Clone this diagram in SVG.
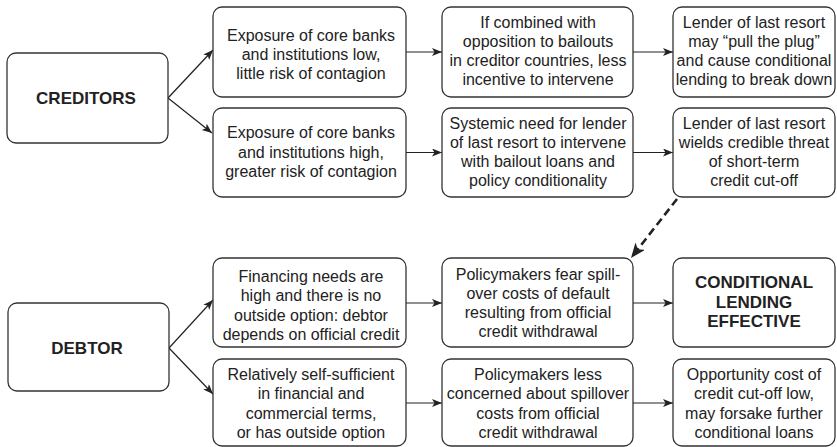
<svg xmlns="http://www.w3.org/2000/svg" width="837" height="447" viewBox="0 0 837 447">
<style>
.box{fill:#fff;stroke:#333;stroke-width:1.3}
.t{font-family:"Liberation Sans",Arial,sans-serif;font-size:16px;fill:#222;text-anchor:middle}
.b{font-family:"Liberation Sans",Arial,sans-serif;font-size:17px;font-weight:bold;fill:#222;text-anchor:middle}
.c{fill:none;stroke:#222;stroke-width:1.2}
.d{fill:none;stroke:#222;stroke-width:2.6;stroke-dasharray:8 4.5}
</style>
<defs>
<marker id="ah" markerUnits="userSpaceOnUse" markerWidth="12" markerHeight="10" refX="10" refY="4" orient="auto">
<path d="M0,0 L10,4 L0,8 L2.5,4 Z" fill="#222"/>
</marker>
<marker id="ahd" markerUnits="userSpaceOnUse" markerWidth="18" markerHeight="14" refX="15" refY="6" orient="auto">
<path d="M0,0 L15,6 L0,12 L4,6 Z" fill="#222"/>
</marker>
</defs>
<rect width="837" height="447" fill="#fff"/>

<g id="connectors">
<line class="c" x1="168" y1="98" x2="213" y2="50" marker-end="url(#ah)"/>
<line class="c" x1="168" y1="98" x2="212" y2="133" marker-end="url(#ah)"/>
<line class="c" x1="169" y1="348" x2="213" y2="300" marker-end="url(#ah)"/>
<line class="c" x1="169" y1="348" x2="213" y2="394" marker-end="url(#ah)"/>
<line class="c" x1="406" y1="52" x2="442" y2="52" marker-end="url(#ah)"/>
<line class="c" x1="633" y1="52" x2="673" y2="52" marker-end="url(#ah)"/>
<line class="c" x1="406" y1="152.5" x2="442" y2="152.5" marker-end="url(#ah)"/>
<line class="c" x1="633" y1="152.5" x2="673" y2="152.5" marker-end="url(#ah)"/>
<line class="c" x1="406" y1="303" x2="442" y2="303" marker-end="url(#ah)"/>
<line class="c" x1="633" y1="303" x2="673" y2="303" marker-end="url(#ah)"/>
<line class="c" x1="406" y1="403" x2="442" y2="403" marker-end="url(#ah)"/>
<line class="c" x1="633" y1="403" x2="673" y2="403" marker-end="url(#ah)"/>
<line class="d" x1="677" y1="199" x2="631" y2="258" marker-end="url(#ahd)"/>
</g>

<g id="creditors">
<rect class="box" x="7" y="53" width="161" height="90" rx="9"/>
<text class="b" x="86" y="104">CREDITORS</text>
</g>
<g id="debtor">
<rect class="box" x="8" y="303" width="161" height="88" rx="9"/>
<text class="b" x="87" y="354">DEBTOR</text>
</g>

<g id="c-low">
<rect class="box" x="213" y="7" width="193" height="90" rx="9"/>
<text class="t" x="311" y="40.5">Exposure of core banks</text>
<text class="t" x="311" y="59.5">and institutions low,</text>
<text class="t" x="311" y="78.5">little risk of contagion</text>
</g>
<g id="c-high">
<rect class="box" x="213" y="108" width="193" height="89" rx="9"/>
<text class="t" x="311" y="138">Exposure of core banks</text>
<text class="t" x="311" y="157.5">and institutions high,</text>
<text class="t" x="311" y="176.5">greater risk of contagion</text>
</g>
<g id="c-oppose">
<rect class="box" x="442" y="7" width="191" height="90" rx="9"/>
<text class="t" x="538" y="28">If combined with</text>
<text class="t" x="538" y="47">opposition to bailouts</text>
<text class="t" x="538" y="66">in creditor countries, less</text>
<text class="t" x="538" y="85">incentive to intervene</text>
</g>
<g id="c-need">
<rect class="box" x="442" y="108" width="191" height="89" rx="9"/>
<text class="t" x="538" y="128.5">Systemic need for lender</text>
<text class="t" x="538" y="147.5">of last resort to intervene</text>
<text class="t" x="538" y="166.5">with bailout loans and</text>
<text class="t" x="538" y="185.5">policy conditionality</text>
</g>
<g id="c-plug">
<rect class="box" x="673" y="7" width="162" height="90" rx="9"/>
<text class="t" x="754" y="28">Lender of last resort</text>
<text class="t" x="754" y="47">may “pull the plug”</text>
<text class="t" x="754" y="66">and cause conditional</text>
<text class="t" x="754" y="85">lending to break down</text>
</g>
<g id="c-threat">
<rect class="box" x="673" y="108" width="162" height="89" rx="9"/>
<text class="t" x="754" y="128.5">Lender of last resort</text>
<text class="t" x="754" y="147.5">wields credible threat</text>
<text class="t" x="754" y="166.5">of short-term</text>
<text class="t" x="754" y="185.5">credit cut-off</text>
</g>

<g id="d-high">
<rect class="box" x="213" y="258" width="193" height="89" rx="9"/>
<text class="t" x="311" y="281.5">Financing needs are</text>
<text class="t" x="311" y="301">high and there is no</text>
<text class="t" x="311" y="320.5">outside option: debtor</text>
<text class="t" x="311" y="340">depends on official credit</text>
</g>
<g id="d-self">
<rect class="box" x="213" y="359" width="193" height="87" rx="9"/>
<text class="t" x="311" y="379.5">Relatively self-sufficient</text>
<text class="t" x="311" y="399">in financial and</text>
<text class="t" x="311" y="418.5">commercial terms,</text>
<text class="t" x="311" y="438">or has outside option</text>
</g>
<g id="d-fear">
<rect class="box" x="442" y="258" width="191" height="89" rx="9"/>
<text class="t" x="538" y="279.5">Policymakers fear spill-</text>
<text class="t" x="538" y="298.5">over costs of default</text>
<text class="t" x="538" y="318">resulting from official</text>
<text class="t" x="538" y="337">credit withdrawal</text>
</g>
<g id="d-less">
<rect class="box" x="442" y="359" width="191" height="87" rx="9"/>
<text class="t" x="538" y="379.5">Policymakers less</text>
<text class="t" x="538" y="399">concerned about spillover</text>
<text class="t" x="538" y="418.5">costs from official</text>
<text class="t" x="538" y="438">credit withdrawal</text>
</g>
<g id="effective">
<rect class="box" x="673" y="258" width="162" height="89" rx="9"/>
<text class="b" x="754" y="288">CONDITIONAL</text>
<text class="b" x="754" y="307.5">LENDING</text>
<text class="b" x="754" y="327">EFFECTIVE</text>
</g>
<g id="d-cost">
<rect class="box" x="673" y="359" width="162" height="87" rx="9"/>
<text class="t" x="754" y="379.5">Opportunity cost of</text>
<text class="t" x="754" y="399">credit cut-off low,</text>
<text class="t" x="754" y="418.5">may forsake further</text>
<text class="t" x="754" y="438">conditional loans</text>
</g>
</svg>
